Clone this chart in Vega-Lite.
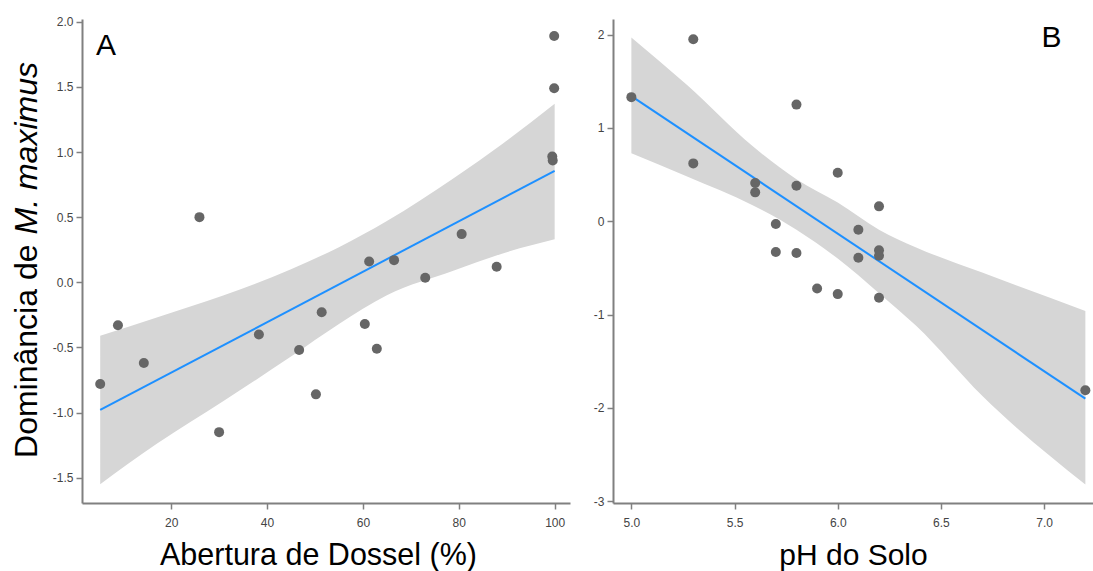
{
  "$schema": "https://vega.github.io/schema/vega-lite/v6.json",
  "background": "white",
  "padding": {"left": 9, "top": 15, "right": 0, "bottom": 0},
  "config": {
    "view": {"stroke": null},
    "font": "Liberation Sans",
    "concat": {"spacing": 23},
    "axis": {
      "grid": false,
      "domainColor": "#808080",
      "domainWidth": 2,
      "tickColor": "#808080",
      "tickSize": 6,
      "tickWidth": 1.5,
      "labelColor": "#444444",
      "labelFontSize": 12,
      "labelFont": "Liberation Sans",
      "titleFont": "Liberation Sans",
      "titleFontSize": 30,
      "titleFontWeight": "normal",
      "titleColor": "#000000"
    }
  },
  "datasets": {
    "a_pts": [
      {"abertura": 5.2, "dominancia": -0.78},
      {"abertura": 8.9, "dominancia": -0.33},
      {"abertura": 14.3, "dominancia": -0.62},
      {"abertura": 25.9, "dominancia": 0.50},
      {"abertura": 30.0, "dominancia": -1.15},
      {"abertura": 38.3, "dominancia": -0.40},
      {"abertura": 46.7, "dominancia": -0.52},
      {"abertura": 50.2, "dominancia": -0.86},
      {"abertura": 51.4, "dominancia": -0.23},
      {"abertura": 60.4, "dominancia": -0.32},
      {"abertura": 62.9, "dominancia": -0.51},
      {"abertura": 61.3, "dominancia": 0.16},
      {"abertura": 66.5, "dominancia": 0.17},
      {"abertura": 73.0, "dominancia": 0.035},
      {"abertura": 80.6, "dominancia": 0.37},
      {"abertura": 87.9, "dominancia": 0.12},
      {"abertura": 99.5, "dominancia": 0.965},
      {"abertura": 99.6, "dominancia": 0.935},
      {"abertura": 99.9, "dominancia": 1.89},
      {"abertura": 99.9, "dominancia": 1.49}
    ],
    "a_fit": [
      {"abertura": 5.2, "fit": -0.98},
      {"abertura": 100, "fit": 0.855}
    ],
    "a_band": [
      {"abertura": 5.2, "lo": -1.55, "hi": -0.41},
      {"abertura": 17, "lo": -1.24, "hi": -0.27},
      {"abertura": 31, "lo": -0.91, "hi": -0.10},
      {"abertura": 45, "lo": -0.57, "hi": 0.10},
      {"abertura": 55, "lo": -0.32, "hi": 0.27},
      {"abertura": 65, "lo": -0.10, "hi": 0.47},
      {"abertura": 79, "lo": 0.09, "hi": 0.80},
      {"abertura": 89, "lo": 0.22, "hi": 1.06},
      {"abertura": 100, "lo": 0.33, "hi": 1.37}
    ],
    "b_pts": [
      {"ph": 5.0, "dominancia": 1.33},
      {"ph": 5.3, "dominancia": 1.95},
      {"ph": 5.3, "dominancia": 0.62},
      {"ph": 5.6, "dominancia": 0.41},
      {"ph": 5.6, "dominancia": 0.31},
      {"ph": 5.7, "dominancia": -0.03},
      {"ph": 5.7, "dominancia": -0.33},
      {"ph": 5.8, "dominancia": 1.25},
      {"ph": 5.8, "dominancia": 0.38},
      {"ph": 5.8, "dominancia": -0.34},
      {"ph": 5.9, "dominancia": -0.72},
      {"ph": 6.0, "dominancia": 0.52},
      {"ph": 6.0, "dominancia": -0.78},
      {"ph": 6.1, "dominancia": -0.09},
      {"ph": 6.1, "dominancia": -0.39},
      {"ph": 6.2, "dominancia": 0.16},
      {"ph": 6.2, "dominancia": -0.31},
      {"ph": 6.2, "dominancia": -0.37},
      {"ph": 6.2, "dominancia": -0.82},
      {"ph": 7.2, "dominancia": -1.81}
    ],
    "b_fit": [
      {"ph": 5.0, "fit": 1.34},
      {"ph": 7.2, "fit": -1.90}
    ],
    "b_band": [
      {"ph": 5.0, "lo": 0.73, "hi": 1.97},
      {"ph": 5.27, "lo": 0.48, "hi": 1.46},
      {"ph": 5.59, "lo": 0.17, "hi": 0.80},
      {"ph": 5.8, "lo": -0.09, "hi": 0.45},
      {"ph": 6.0, "lo": -0.40, "hi": 0.20},
      {"ph": 6.2, "lo": -0.77, "hi": -0.09},
      {"ph": 6.38, "lo": -1.12, "hi": -0.28},
      {"ph": 6.7, "lo": -1.87, "hi": -0.55},
      {"ph": 7.2, "lo": -2.82, "hi": -0.96}
    ]
  },
  "hconcat": [
    {
      "width": 488,
      "height": 484,
      "layer": [
        {
          "layer": [
            {
              "data": {"name": "a_band"},
              "mark": {"type": "area", "color": "#d6d6d6", "interpolate": "monotone"},
              "encoding": {
                "x": {
                  "field": "abertura", "type": "quantitative",
                  "title": "Abertura de Dossel (%)",
                  "scale": {"domain": [1.4, 103.2], "nice": false, "zero": false},
                  "axis": {"values": [20, 40, 60, 80, 100], "labelPadding": 8, "titlePadding": 12, "titleFontSize": 30.5, "titleX": 236}
                },
                "y": {
                  "field": "lo", "type": "quantitative",
                  "title": "Dominância de",
                  "scale": {"domain": [-1.694, 2.021], "nice": false, "zero": false},
                  "axis": {
                    "values": [-1.5, -1.0, -0.5, 0.0, 0.5, 1.0, 1.5, 2.0],
                    "format": ".1f",
                    "labelExpr": "replace(datum.label, '\u2212', '-')",
                    "labelPadding": 3,
                    "titleFontSize": 32,
                    "titleAngle": 270,
                    "titleAlign": "right",
                    "titleBaseline": "alphabetic",
                    "titleX": -46,
                    "titleY": 225
                  }
                },
                "y2": {"field": "hi"}
              }
            },
            {
              "data": {"name": "a_fit"},
              "mark": {"type": "line", "color": "#1e90ff", "strokeWidth": 2},
              "encoding": {
                "x": {"field": "abertura", "type": "quantitative", "title": "Abertura de Dossel (%)"},
                "y": {"field": "fit", "type": "quantitative", "title": "Dominância de"}
              }
            },
            {
              "data": {"name": "a_pts"},
              "mark": {"type": "circle", "color": "#666666", "opacity": 1, "size": 100},
              "encoding": {
                "x": {"field": "abertura", "type": "quantitative", "title": "Abertura de Dossel (%)"},
                "y": {"field": "dominancia", "type": "quantitative", "title": "Dominância de"}
              }
            },
            {
              "data": {"values": [{"painel": "A"}]},
              "mark": {"type": "text", "fontSize": 30, "align": "left", "baseline": "alphabetic", "color": "#000000"},
              "encoding": {
                "x": {"datum": 4.3, "type": "quantitative"},
                "y": {"datum": 1.745, "type": "quantitative"},
                "text": {"field": "painel"}
              }
            }
          ]
        },
        {
          "data": {"name": "a_pts"},
          "mark": {"type": "point", "opacity": 0, "size": 1},
          "encoding": {
            "y": {
              "field": "dominancia", "type": "quantitative",
              "title": "M. maximus",
              "scale": {"domain": [-1.694, 2.021], "nice": false, "zero": false},
              "axis": {
                "orient": "left",
                "labels": false,
                "ticks": false,
                "domain": false,
                "titleFontSize": 32,
                "titleFontStyle": "italic",
                "titleAngle": 270,
                "titleAlign": "left",
                "titleBaseline": "alphabetic",
                "titleX": -46,
                "titleY": 215
              }
            }
          }
        }
      ],
      "resolve": {"scale": {"y": "independent"}, "axis": {"y": "independent"}}
    },
    {
      "width": 480,
      "height": 484,
      "layer": [
        {
          "data": {"name": "b_band"},
          "mark": {"type": "area", "color": "#d6d6d6", "interpolate": "monotone"},
          "encoding": {
            "x": {
              "field": "ph", "type": "quantitative",
              "title": "pH do Solo",
              "scale": {"domain": [4.911, 7.237], "nice": false, "zero": false},
              "axis": {"values": [5.0, 5.5, 6.0, 6.5, 7.0], "format": ".1f", "labelPadding": 8, "titlePadding": 12}
            },
            "y": {
              "field": "lo", "type": "quantitative",
              "title": null,
              "scale": {"domain": [-3.018, 2.167], "nice": false, "zero": false},
              "axis": {"values": [-3, -2, -1, 0, 1, 2], "format": "d", "labelExpr": "replace(datum.label, '\u2212', '-')", "labelPadding": 3}
            },
            "y2": {"field": "hi"}
          }
        },
        {
          "data": {"name": "b_fit"},
          "mark": {"type": "line", "color": "#1e90ff", "strokeWidth": 2},
          "encoding": {
            "x": {"field": "ph", "type": "quantitative", "title": "pH do Solo"},
            "y": {"field": "fit", "type": "quantitative", "title": null}
          }
        },
        {
          "data": {"name": "b_pts"},
          "mark": {"type": "circle", "color": "#666666", "opacity": 1, "size": 100},
          "encoding": {
            "x": {"field": "ph", "type": "quantitative", "title": "pH do Solo"},
            "y": {"field": "dominancia", "type": "quantitative", "title": null}
          }
        },
        {
          "data": {"values": [{"painel": "B"}]},
          "mark": {"type": "text", "fontSize": 30, "align": "left", "baseline": "alphabetic", "color": "#000000"},
          "encoding": {
            "x": {"datum": 6.987, "type": "quantitative"},
            "y": {"datum": 1.871, "type": "quantitative"},
            "text": {"field": "painel"}
          }
        }
      ]
    }
  ]
}
